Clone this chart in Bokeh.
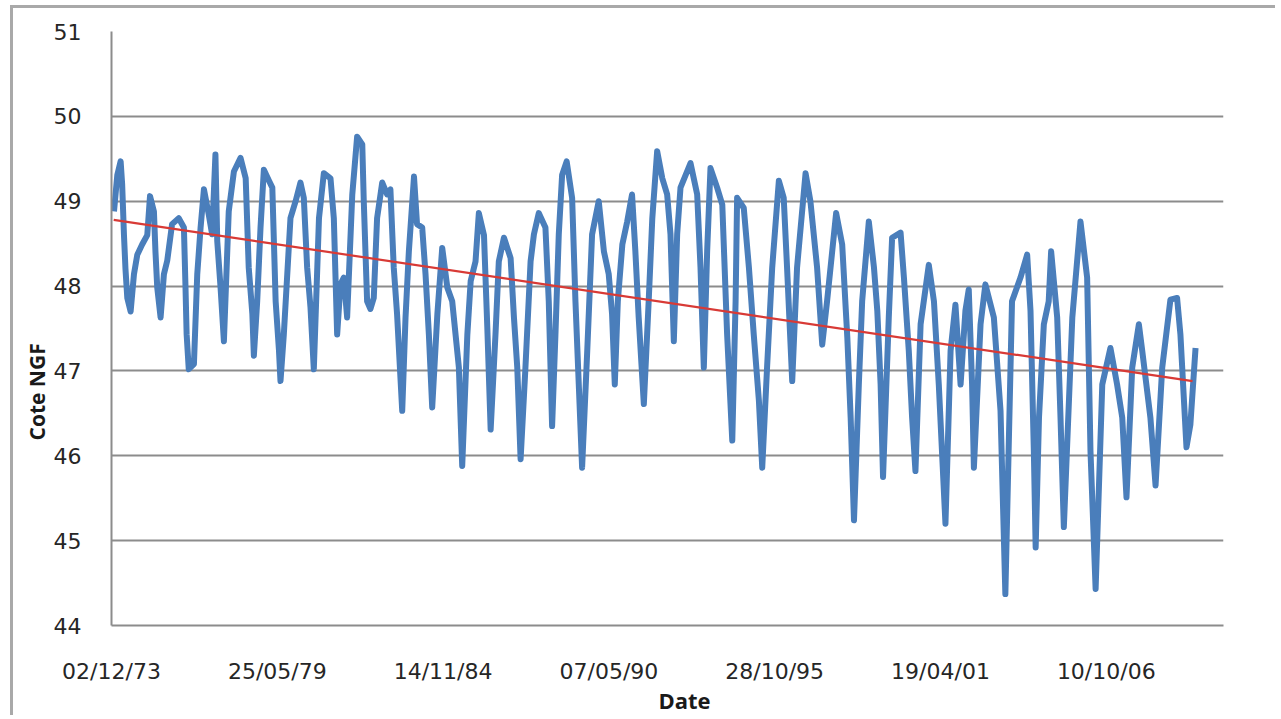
from datetime import datetime, timedelta

from bokeh.plotting import figure
from bokeh.models import Range1d, FixedTicker, DatetimeTickFormatter, Title, ColumnDataSource
from bokeh.embed import file_html
from bokeh.resources import INLINE

# ---------------- data ----------------
# decimal-year positions of the water-level series
years = [
    1974.00, 1974.11, 1974.22, 1974.27, 1974.33, 1974.38, 1974.44, 1974.55, 1974.66, 1974.77,
    1974.93, 1975.10, 1975.19, 1975.32, 1975.37, 1975.43, 1975.54, 1975.65, 1975.76, 1975.92,
    1976.14, 1976.31, 1976.36, 1976.40, 1976.47, 1976.64, 1976.75, 1976.86, 1976.97, 1977.13,
    1977.24, 1977.35, 1977.41, 1977.52, 1977.63, 1977.79, 1977.96, 1978.18, 1978.35, 1978.45,
    1978.57, 1978.62, 1978.73, 1978.84, 1978.95, 1979.12, 1979.23, 1979.34, 1979.45, 1979.50,
    1979.61, 1979.83, 1980.00, 1980.16, 1980.27, 1980.38, 1980.49, 1980.60, 1980.77, 1980.93,
    1981.15, 1981.26, 1981.37, 1981.48, 1981.59, 1981.70, 1981.87, 1982.03, 1982.20, 1982.25,
    1982.36, 1982.47, 1982.58, 1982.69, 1982.86, 1983.02, 1983.13, 1983.24, 1983.35, 1983.52,
    1983.63, 1983.74, 1983.91, 1984.01, 1984.18, 1984.29, 1984.40, 1984.51, 1984.68, 1984.84,
    1985.01, 1985.17, 1985.39, 1985.50, 1985.67, 1985.78, 1985.94, 1986.05, 1986.22, 1986.33,
    1986.44, 1986.60, 1986.71, 1986.88, 1987.10, 1987.21, 1987.32, 1987.43, 1987.59, 1987.76,
    1987.87, 1988.03, 1988.25, 1988.36, 1988.47, 1988.58, 1988.69, 1988.80, 1988.95, 1989.13,
    1989.24, 1989.35, 1989.46, 1989.63, 1989.79, 1990.01, 1990.18, 1990.34, 1990.45, 1990.54,
    1990.64, 1990.79, 1990.95, 1991.11, 1991.22, 1991.33, 1991.50, 1991.66, 1991.78, 1991.94,
    1992.11, 1992.27, 1992.38, 1992.49, 1992.60, 1992.71, 1993.04, 1993.26, 1993.37, 1993.48,
    1993.59, 1993.70, 1993.92, 1994.09, 1994.25, 1994.42, 1994.53, 1994.58, 1994.80, 1994.97,
    1995.13, 1995.30, 1995.41, 1995.57, 1995.74, 1995.96, 1996.12, 1996.23, 1996.40, 1996.56,
    1996.84, 1997.00, 1997.22, 1997.39, 1997.55, 1997.85, 1998.05, 1998.22, 1998.33, 1998.44,
    1998.60, 1998.71, 1998.93, 1999.10, 1999.21, 1999.32, 1999.40, 1999.59, 1999.70, 1999.98,
    2000.09, 2000.25, 2000.36, 2000.47, 2000.64, 2000.91, 2001.08, 2001.24, 2001.46, 2001.63,
    2001.79, 2001.96, 2002.12, 2002.23, 2002.34, 2002.40, 2002.62, 2002.78, 2003.06, 2003.28,
    2003.44, 2003.66, 2003.94, 2004.16, 2004.27, 2004.38, 2004.44, 2004.55, 2004.71, 2004.87,
    2004.95, 2005.15, 2005.26, 2005.37, 2005.65, 2005.92, 2006.14, 2006.25, 2006.42, 2006.64,
    2006.91, 2007.13, 2007.30, 2007.44, 2007.63, 2007.85, 2007.96, 2008.23, 2008.40, 2008.62,
    2008.89, 2009.11, 2009.22, 2009.42, 2009.55, 2009.72,
]
# water level (Cote NGF, m)
levels = [
    48.88, 49.31, 49.47, 49.20, 48.60, 48.20, 47.86, 47.70, 48.14, 48.37,
    48.49, 48.60, 49.06, 48.88, 48.41, 47.98, 47.63, 48.14, 48.30, 48.73,
    48.80, 48.69, 48.02, 47.43, 47.02, 47.08, 48.14, 48.69, 49.14, 48.84,
    48.61, 49.55, 48.53, 47.98, 47.35, 48.88, 49.35, 49.51, 49.27, 48.22,
    47.67, 47.18, 47.82, 48.69, 49.37, 49.24, 49.16, 47.82, 47.24, 46.88,
    47.43, 48.80, 49.00, 49.22, 49.04, 48.22, 47.75, 47.02, 48.80, 49.33,
    49.27, 48.80, 47.43, 48.02, 48.10, 47.63, 49.08, 49.76, 49.67, 49.00,
    47.82, 47.73, 47.86, 48.80, 49.22, 49.08, 49.14, 48.22, 47.67, 46.53,
    47.63, 48.41, 49.29, 48.73, 48.69, 48.14, 47.43, 46.57, 47.67, 48.45,
    47.98, 47.82, 47.04, 45.88, 47.43, 48.06, 48.29, 48.86, 48.60, 47.51,
    46.31, 47.43, 48.29, 48.57, 48.33, 47.63, 47.04, 45.96, 47.04, 48.29,
    48.61, 48.86, 48.69, 47.82, 46.35, 47.43, 48.61, 49.31, 49.47, 49.04,
    47.82, 46.84, 45.86, 47.24, 48.61, 49.00, 48.41, 48.14, 47.67, 46.84,
    47.82, 48.49, 48.76, 49.08, 48.41, 47.63, 46.61, 47.82, 48.80, 49.59,
    49.27, 49.08, 48.61, 47.35, 48.61, 49.16, 49.45, 49.08, 48.22, 47.04,
    48.41, 49.39, 49.16, 48.96, 47.43, 46.18, 47.82, 49.04, 48.92, 48.22,
    47.43, 46.65, 45.86, 47.04, 48.22, 49.24, 49.04, 48.22, 46.88, 48.22,
    49.33, 49.00, 48.22, 47.31, 47.82, 48.86, 48.49, 47.39, 46.45, 45.24,
    46.84, 47.82, 48.76, 48.22, 47.71, 46.84, 45.75, 47.63, 48.57, 48.63,
    48.10, 47.24, 46.45, 45.82, 47.55, 48.25, 47.82, 46.84, 45.20, 47.24,
    47.78, 46.84, 47.71, 47.96, 46.84, 45.86, 47.55, 48.02, 47.63, 46.53,
    44.37, 47.82, 48.10, 48.37, 47.71, 46.06, 44.92, 46.45, 47.55, 47.82,
    48.41, 47.63, 46.45, 45.16, 47.63, 48.76, 48.10, 46.06, 44.43, 46.84,
    47.27, 46.84, 46.45, 45.51, 47.04, 47.55, 47.24, 46.45, 45.65, 47.04,
    47.84, 47.86, 47.43, 46.10, 46.37, 47.27,
]

# linear trend line (end points)
trend_years = [1973.99, 2009.62]
trend_levels = [48.78, 46.88]

# axis ticks
x_tick_dates = ["1973-12-02", "1979-05-25", "1984-11-14", "1990-05-07",
                "1995-10-28", "2001-04-19", "2006-10-10"]
y_ticks = [44, 45, 46, 47, 48, 49, 50, 51]

x_title = "Date"
y_title = "Cote NGF"


def year_to_dt(y):
    yi = int(y)
    a = datetime(yi, 1, 1)
    b = datetime(yi + 1, 1, 1)
    return a + (b - a) * (y - yi)


def ms(dt):
    return (dt - datetime(1970, 1, 1)).total_seconds() * 1000.0


# ---------------- layout ----------------
FRAME_W, FRAME_H = 1112, 594
BL, BT = 98, 23
W, H = 1265, 710

x0 = datetime(1973, 12, 2)
x1 = x0 + timedelta(days=13414)
Y0, Y1 = 44, 51

p = figure(
    width=W, height=H,
    x_axis_type="datetime",
    x_range=Range1d(x0, x1),
    y_range=Range1d(Y0, Y1),
    output_backend="svg",
    toolbar_location=None,
    min_border_left=BL, min_border_top=BT,
    min_border_right=W - BL - FRAME_W,
    min_border_bottom=H - BT - FRAME_H,
)
p.styles = {"margin-left": "10px", "margin-top": "5px",
            "border-left": "3px solid #a9a9a9", "border-top": "3px solid #a9a9a9"}
p.outline_line_color = None
p.background_fill_color = "white"
p.border_fill_color = "white"

src = ColumnDataSource(dict(x=[year_to_dt(v) for v in years], y=levels))
p.line("x", "y", source=src, line_color="#4a7ebb", line_width=6, line_join="round")

tsrc = ColumnDataSource(dict(x=[year_to_dt(v) for v in trend_years], y=trend_levels))
p.line("x", "y", source=tsrc, line_color="#d83a36", line_width=2.2)

# axes
GRID = "#8c8c8c"
p.xgrid.visible = False
p.ygrid.grid_line_color = GRID
p.ygrid.grid_line_width = 2

p.yaxis.ticker = FixedTicker(ticks=y_ticks)
p.xaxis.ticker = FixedTicker(ticks=[ms(datetime.strptime(d, "%Y-%m-%d")) for d in x_tick_dates])
fmt = "%d/%m/%y"
p.xaxis.formatter = DatetimeTickFormatter(days=fmt, months=fmt, years=fmt, hours=fmt,
                                          hourmin=fmt, minutes=fmt, minsec=fmt, seconds=fmt,
                                          milliseconds=fmt, microseconds=fmt)

for ax in (p.xaxis[0], p.yaxis[0]):
    ax.axis_line_color = GRID
    ax.axis_line_width = 2
    ax.major_tick_line_color = None
    ax.minor_tick_line_color = None
    ax.major_tick_out = 0
    ax.major_tick_in = 0
    ax.major_label_text_font = "DejaVu Sans"
    ax.major_label_text_font_size = "22px"
    ax.major_label_text_color = "#262626"
p.yaxis.major_label_standoff = 30
p.xaxis.major_label_standoff = 33

# axis titles, placed off-centre like the original
t_y = Title(text=y_title, align="left", offset=185,
            text_font="Open Sans", text_font_style="bold",
            text_font_size="21px", text_color="#1a1a1a")
t_x = Title(text=x_title, align="left", offset=547,
            text_font="Open Sans", text_font_style="bold",
            text_font_size="22px", text_color="#1a1a1a")
if "standoff" in Title.properties():
    t_y.standoff = 0
    t_x.standoff = -8
p.add_layout(t_y, "left")
p.add_layout(t_x, "below")

open("out.html", "w").write(file_html(p, INLINE))
